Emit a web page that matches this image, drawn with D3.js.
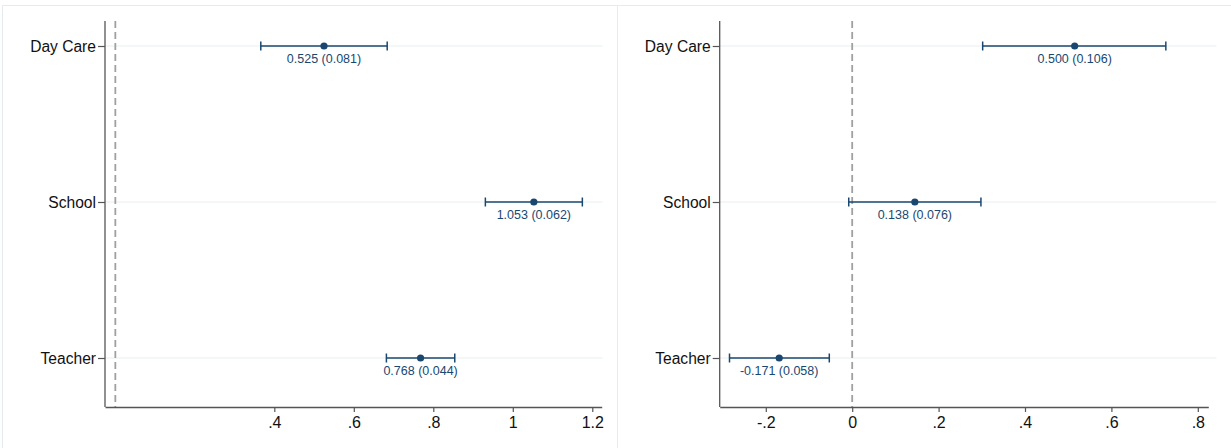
<!DOCTYPE html>
<html><head><meta charset="utf-8">
<script src="https://cdn.jsdelivr.net/npm/d3@7"></script>
<style>
html,body{margin:0;padding:0;background:#fff;}
svg{display:block;font-family:"Liberation Sans",Arial,Helvetica,sans-serif;}
</style></head>
<body>
<svg id="chart" width="1231" height="448"></svg>
<script>
const categories = ["Day Care", "School", "Teacher"];

const leftCoef = [0.525, 1.053, 0.768];
const leftLo   = [0.366, 0.931, 0.682];
const leftHi   = [0.684, 1.175, 0.854];
const leftLabels = ["0.525 (0.081)", "1.053 (0.062)", "0.768 (0.044)"];
const leftTicks = [0.4, 0.6, 0.8, 1, 1.2];
const leftTickLabels = [".4", ".6", ".8", "1", "1.2"];

const rightCoef = [0.515, 0.145, -0.169];
const rightLo   = [0.302, -0.008, -0.284];
const rightHi   = [0.726, 0.298, -0.053];
const rightLabels = ["0.500 (0.106)", "0.138 (0.076)", "-0.171 (0.058)"];
const rightTicks = [-0.2, 0, 0.2, 0.4, 0.6, 0.8];
const rightTickLabels = ["-.2", "0", ".2", ".4", ".6", ".8"];

const svg = d3.select("#chart");
const navy = "#1a476f";

// panel borders
svg.append("rect").attr("x", 2.5).attr("y", 5.5).attr("width", 615).attr("height", 460)
  .attr("fill", "none").attr("stroke", "#e6ecee").attr("stroke-width", 1);
svg.append("rect").attr("x", 617.5).attr("y", 5.5).attr("width", 620).attr("height", 460)
  .attr("fill", "none").attr("stroke", "#e6ecee").attr("stroke-width", 1);

function panel(cfg) {
  const g = svg.append("g");
  const x = d3.scaleLinear().domain(cfg.domain).range([cfg.x0, cfg.x1]);
  const y = d3.scalePoint().domain(categories).range([46, 358]);
  const top = 21, bottom = 407;

  g.selectAll("line.grid").data(categories).join("line")
    .attr("x1", cfg.x0).attr("x2", cfg.gridEnd)
    .attr("y1", d => y(d)).attr("y2", d => y(d))
    .attr("stroke", "#e8eff2").attr("stroke-width", 1.2);

  g.append("line").attr("x1", x(0)).attr("x2", x(0)).attr("y1", top).attr("y2", bottom)
    .attr("stroke", "#a0a0a0").attr("stroke-width", 1.8).attr("stroke-dasharray", "7,4");

  const xa = g.append("g").attr("transform", `translate(0,${bottom})`)
    .call(d3.axisBottom(x).tickValues(cfg.ticks).tickFormat((d, i) => cfg.tickLabels[i])
      .tickSize(5).tickSizeOuter(0).tickPadding(5));
  xa.select(".domain").attr("stroke", "#555").attr("stroke-width", 1.3);
  xa.selectAll(".tick line").attr("stroke", "#555").attr("stroke-width", 1.2);
  xa.selectAll(".tick text").attr("font-size", 16).attr("fill", "#111")
    .attr("font-family", "Liberation Sans, Arial, sans-serif");

  const ya = g.append("g").attr("transform", `translate(${cfg.x0},0)`)
    .call(d3.axisLeft(y).tickSize(7).tickSizeOuter(0).tickPadding(2));
  ya.select(".domain").attr("d", `M0,${top}V${bottom}`).attr("stroke", "#555").attr("stroke-width", 1.3);
  ya.selectAll(".tick line").attr("stroke", "#555").attr("stroke-width", 1.2);
  ya.selectAll(".tick text").attr("font-size", 15.6).attr("fill", "#111")
    .attr("font-family", "Liberation Sans, Arial, sans-serif");

  const rows = categories.map((c, i) => ({c, coef: cfg.coef[i], lo: cfg.lo[i], hi: cfg.hi[i], lab: cfg.labels[i]}));
  const r = g.selectAll("g.row").data(rows).join("g").attr("class", "row");
  r.append("line").attr("x1", d => x(d.lo)).attr("x2", d => x(d.hi))
    .attr("y1", d => y(d.c)).attr("y2", d => y(d.c)).attr("stroke", navy).attr("stroke-width", 1.5);
  r.append("line").attr("x1", d => x(d.lo)).attr("x2", d => x(d.lo))
    .attr("y1", d => y(d.c) - 4.5).attr("y2", d => y(d.c) + 4.5).attr("stroke", navy).attr("stroke-width", 1.5);
  r.append("line").attr("x1", d => x(d.hi)).attr("x2", d => x(d.hi))
    .attr("y1", d => y(d.c) - 4.5).attr("y2", d => y(d.c) + 4.5).attr("stroke", navy).attr("stroke-width", 1.5);
  r.append("circle").attr("cx", d => x(d.coef)).attr("cy", d => y(d.c)).attr("r", 3.6).attr("fill", navy);
  r.append("text").attr("x", d => x(d.coef)).attr("y", d => y(d.c) + 16.5)
    .attr("text-anchor", "middle").attr("font-size", 12.5).attr("fill", navy).text(d => d.lab);
}

panel({domain: [-0.026, 1.2237], x0: 105, x1: 601.7, gridEnd: 602.5, ticks: leftTicks, tickLabels: leftTickLabels,
       coef: leftCoef, lo: leftLo, hi: leftHi, labels: leftLabels});
panel({domain: [-0.3067, 0.8243], x0: 719.7, x1: 1208.3, gridEnd: 1216.5, ticks: rightTicks, tickLabels: rightTickLabels,
       coef: rightCoef, lo: rightLo, hi: rightHi, labels: rightLabels});
</script>
</body></html>
